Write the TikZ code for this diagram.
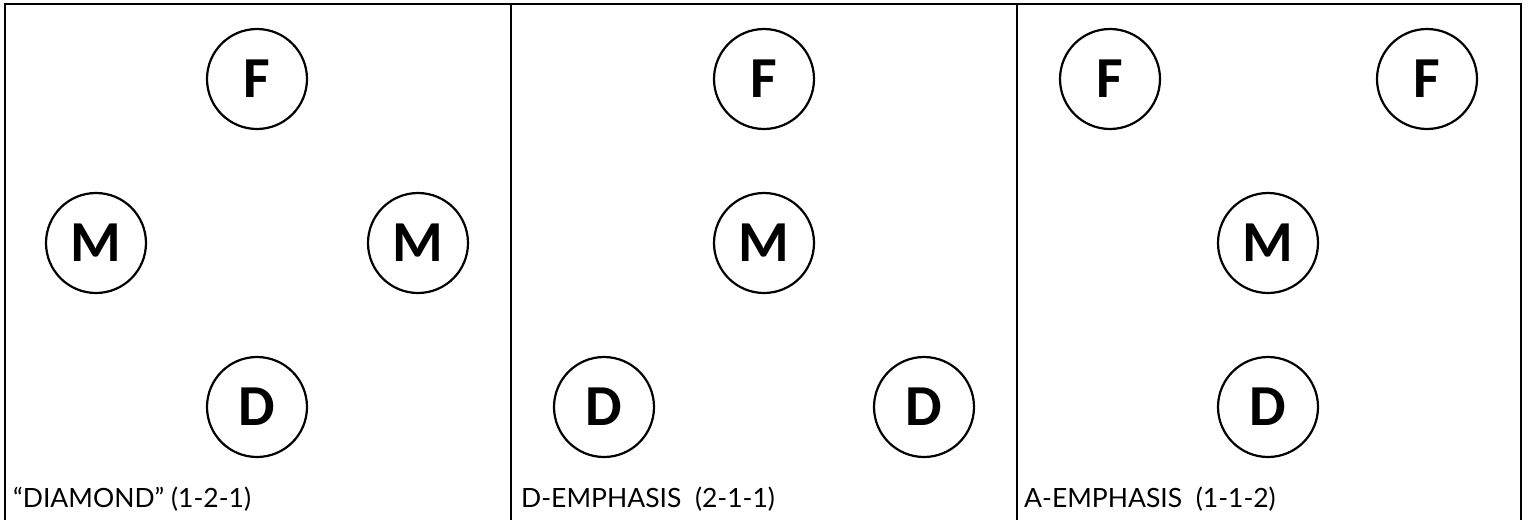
\documentclass[tikz,border=0pt]{standalone}
\usepackage{fontspec}
\newfontfamily\circfont{Carlito}
\newfontfamily\labfont{Lato}
\tikzset{
  player/.style={circle, draw=black, line width=2.2pt, minimum size=100pt, inner sep=0pt,
    font=\circfont\bfseries\fontsize{58}{60}\selectfont},
  caption/.style={anchor=base west, inner sep=0pt, font=\labfont\fontsize{26.5}{30}\selectfont},
  frame/.style={line width=1.6pt, draw=black}
}
\begin{document}
\begin{tikzpicture}[x=1pt,y=-1pt]
\useasboundingbox (0,0) rectangle (1530,519);
% frame lines
\coordinate (tl) at (5,4);
\coordinate (tr) at (1521,4);
\coordinate (bl) at (5,521);
\coordinate (br) at (1521,521);
\coordinate (d1t) at (511,4);
\coordinate (d1b) at (511,521);
\coordinate (d2t) at (1017,4);
\coordinate (d2b) at (1017,521);
\draw[frame] (bl) -- (tl) -- (tr) -- (br);
\draw[frame] (d1t) -- (d1b);
\draw[frame] (d2t) -- (d2b);
% panel 1
\node[player] (p1f) at (257,79) {F};
\node[player] (p1m1) at (96,243) {M};
\node[player] (p1m2) at (418,243) {M};
\node[player] (p1d) at (257,407) {D};
\node[caption] (c1) at (13,507) {“DIAMOND” (1-2-1)};
% panel 2
\node[player] (p2f) at (764,79) {F};
\node[player] (p2m) at (764,243) {M};
\node[player] (p2d1) at (604,407) {D};
\node[player] (p2d2) at (924,407) {D};
\node[caption] (c2) at (521,507) {D-EMPHASIS\ \ (2-1-1)};
% panel 3
\node[player] (p3f1) at (1110,79) {F};
\node[player] (p3f2) at (1427,79) {F};
\node[player] (p3m) at (1268,243) {M};
\node[player] (p3d) at (1268,407) {D};
\node[caption] (c3) at (1024,507) {A-EMPHASIS\ \ (1-1-2)};
\end{tikzpicture}
\end{document}
